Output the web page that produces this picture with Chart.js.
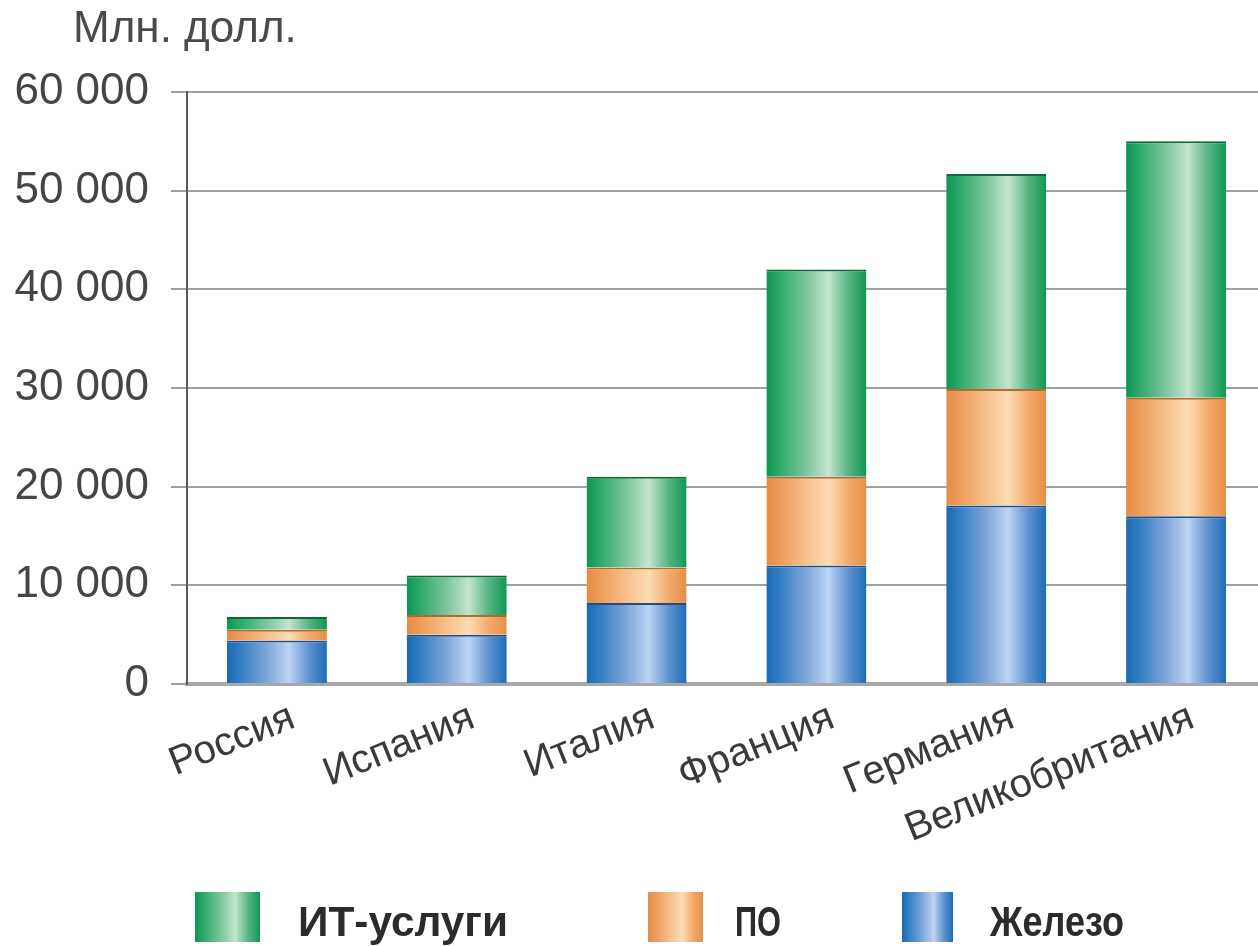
<!DOCTYPE html>
<html>
<head>
<meta charset="utf-8">
<script src="https://cdn.jsdelivr.net/npm/chart.js@4.4.0/dist/chart.umd.min.js"></script>
<style>
  html, body { margin: 0; padding: 0; background: #fff; overflow: hidden; }
  #wrap { position: relative; width: 1258px; height: 946px; overflow: hidden; }
  #chart { position: absolute; left: 0; top: 0; }
  .unit { position: absolute; left: 73px; top: 5px; font: 44px "Liberation Sans", Arial, sans-serif; line-height: 44px; color: #4a4a4a; }
  .leg-box { position: absolute; top: 892px; height: 50px; }
  .leg-text { position: absolute; top: 901px; font: bold 42px "Liberation Sans", Arial, sans-serif; line-height: 42px; color: #2b2b2b; white-space: nowrap; transform-origin: left center; }
</style>
</head>
<body>
<div id="wrap">
  <canvas id="chart" width="1280" height="946"></canvas>
  <div class="unit">Млн. долл.</div>
  <div id="legend"></div>
</div>
<script>
// Data (millions of dollars)
const countries = ["Россия", "Испания", "Италия", "Франция", "Германия", "Великобритания"];
const hardware = [4400, 5000, 8200, 12000, 18100, 17000];   // Железо
const software = [1100, 2000, 3600, 9000, 11800, 12000];    // ПО
const services = [1300, 4000, 9200, 21000, 21800, 26000];   // ИТ-услуги
const yTicks = [0, 10000, 20000, 30000, 40000, 50000, 60000];

const BAR_PCT = 0.556;

// Function to format numbers with spaces
function numberWithSpaces(x) {
  return String(x).replace(/\B(?=(\d{3})+(?!\d))/g, " ");
}

// Horizontal "cylinder" gradient for each bar
function barGradient(stops) {
  return (ctx) => {
    const chart = ctx.chart;
    const xs = chart.scales.x;
    if (ctx.type !== 'data' || !xs || !chart.chartArea) return stops[0][1];
    const cx = xs.getPixelForValue(ctx.dataIndex);
    const w = xs.width / countries.length * BAR_PCT;
    const g = chart.ctx.createLinearGradient(cx - w / 2, 0, cx + w / 2, 0);
    stops.forEach(([p, c]) => g.addColorStop(p, c));
    return g;
  };
}

const greenStops = [[0, '#0d9553'], [0.12, '#2aa868'], [0.4, '#7cc69c'], [0.62, '#c3e5cf'], [0.82, '#55b581'], [1, '#0f9856']];
const orangeStops = [[0, '#e68c44'], [0.12, '#ec9a58'], [0.4, '#f7c08c'], [0.62, '#fedcb4'], [0.82, '#f2ab6c'], [1, '#e68e48']];
const blueStops = [[0, '#1a6ab3'], [0.12, '#2f7cc2'], [0.4, '#7ea6da'], [0.62, '#bdd4f4'], [0.82, '#5f92d0'], [1, '#1d6db6']];

const datasets = [
  { label: 'Железо', data: hardware, stops: blueStops, edge: '#1d4f86' },
  { label: 'ПО', data: software, stops: orangeStops, edge: '#b86a2c' },
  { label: 'ИТ-услуги', data: services, stops: greenStops, edge: '#0a6a3a' }
].map(d => ({
  label: d.label,
  data: d.data,
  backgroundColor: barGradient(d.stops),
  borderColor: d.edge,
  borderWidth: { top: 2, left: 0, right: 0, bottom: 0 },
  borderSkipped: false,
  barPercentage: BAR_PCT,
  categoryPercentage: 1
}));

// HTML legend (order as in the picture); fit = text width in the picture
const legendItems = [
  { text: 'ИТ-услуги', stops: greenStops, box: [195, 65], tx: 298, fit: 210 },
  { text: 'ПО', stops: orangeStops, box: [648, 55], tx: 735, fit: 46 },
  { text: 'Железо', stops: blueStops, box: [902, 51], tx: 990, fit: 134 }
];
const legendEl = document.getElementById('legend');
legendItems.forEach(it => {
  const box = document.createElement('div');
  box.className = 'leg-box';
  box.style.left = it.box[0] + 'px';
  box.style.width = it.box[1] + 'px';
  box.style.background = 'linear-gradient(to right, ' + it.stops.map(([p, c]) => c + ' ' + (p * 100) + '%').join(', ') + ')';
  legendEl.appendChild(box);
  const t = document.createElement('div');
  t.className = 'leg-text';
  t.style.left = it.tx + 'px';
  t.textContent = it.text;
  legendEl.appendChild(t);
  const w = t.getBoundingClientRect().width;
  if (w > 0) t.style.transform = 'scaleX(' + (it.fit / w).toFixed(3) + ')';
});

const ctx = document.getElementById('chart').getContext('2d');
new Chart(ctx, {
  type: 'bar',
  data: { labels: countries, datasets },
  options: {
    responsive: false,
    animation: false,
    layout: { padding: { top: 92, right: 14, left: 0, bottom: 0 } },
    plugins: { legend: { display: false }, tooltip: { enabled: false } },
    scales: {
      x: {
        stacked: true,
        grid: { display: false },
        border: { color: '#a8a8a8', width: 4 },
        ticks: {
          autoSkip: false,
          minRotation: 22,
          maxRotation: 22,
          padding: 2,
          labelOffset: 16,
          color: '#3a3a3a',
          font: { family: '"Liberation Sans", Arial, sans-serif', size: 40 }
        },
        afterFit: (s) => { s.height = 946 - 684; s.paddingLeft = 0; s.paddingRight = 0; }
      },
      y: {
        stacked: true,
        min: 0,
        max: 60000,
        afterBuildTicks: (s) => { s.ticks = yTicks.map(v => ({ value: v })); },
        grid: { color: '#a0a0a0', lineWidth: 2, tickLength: 16 },
        border: { color: '#5a5a5a', width: 2 },
        ticks: {
          padding: 22,
          color: '#454545',
          font: { family: '"Liberation Sans", Arial, sans-serif', size: 44 },
          callback: (v) => numberWithSpaces(v)
        },
        afterFit: (s) => { s.width = 187; }
      }
    }
  }
});
</script>
</body>
</html>
